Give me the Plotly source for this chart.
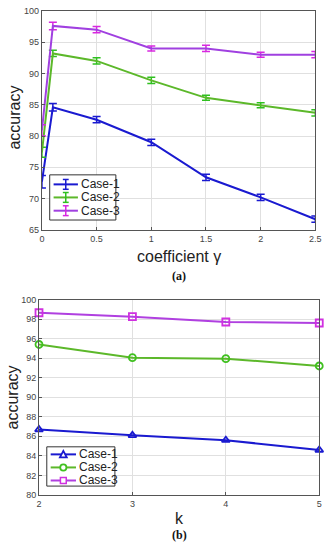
import plotly.graph_objects as go

# ---- data (a) ----
gamma = [0, 0.1, 0.5, 1, 1.5, 2, 2.5]
a_case1 = [72.7, 84.6, 82.6, 79.0, 73.4, 70.2, 66.7]
a_case1_err = [1.0, 0.6, 0.5, 0.5, 0.5, 0.5, 0.5]
a_case2 = [77.4, 93.2, 92.0, 88.9, 86.1, 84.9, 83.7]
a_case2_err = [0.8, 0.5, 0.5, 0.5, 0.4, 0.4, 0.5]
a_case3 = [80.9, 97.6, 97.0, 94.0, 94.0, 93.0, 93.0]
a_case3_err = [0.9, 0.6, 0.5, 0.4, 0.5, 0.4, 0.5]

# ---- data (b) ----
k_vals = [2, 3, 4, 5]
b_case1 = [86.7, 86.1, 85.6, 84.6]
b_case2 = [95.4, 94.05, 93.95, 93.2]
b_case3 = [98.65, 98.25, 97.7, 97.6]

names = ["Case-1", "Case-2", "Case-3"]
line_cols = ["#1a1ad0", "#5cb82a", "#a040e0"]
err_cols = ["#1a1ad0", "#30c020", "#d828e0"]
b_line_cols = ["#1a1ad0", "#5cb82a", "#b040e0"]
b_mark_cols = ["#1a1ad0", "#40c020", "#d030e0"]
symbols = ["triangle-up-open", "circle-open", "square-open"]

W, H = 334, 550


def px(xp):
    return xp / W


def py(yp):
    return 1 - yp / H


fig = go.Figure()

for vals, errs, nm, lc, ec in zip([a_case1, a_case2, a_case3],
                                  [a_case1_err, a_case2_err, a_case3_err],
                                  names, line_cols, err_cols):
    fig.add_trace(go.Scatter(
        x=gamma, y=vals, name=nm, mode="lines", showlegend=False, cliponaxis=False,
        line=dict(color=lc, width=2),
        error_y=dict(type="data", array=errs, visible=True,
                     color=ec, thickness=1.5, width=4),
        xaxis="x", yaxis="y"))

for vals, nm, lc, mc, sy in zip([b_case1, b_case2, b_case3], names,
                                b_line_cols, b_mark_cols, symbols):
    fig.add_trace(go.Scatter(
        x=k_vals, y=vals, name=nm, mode="lines+markers", showlegend=False, cliponaxis=False,
        line=dict(color=lc, width=2),
        marker=dict(symbol=sy, size=7, color=mc, line=dict(width=1.8, color=mc)),
        xaxis="x2", yaxis="y2"))

axis_common = dict(showgrid=True, gridcolor="#e0e0e0", gridwidth=1,
                   showline=True, linecolor="#555555", linewidth=1, mirror=True,
                   ticks="inside", ticklen=3, tickcolor="#555555",
                   tickfont=dict(family="Liberation Sans, Arial", size=9, color="#444444"),
                   zeroline=False)

fig.update_layout(
    width=W, height=H,
    margin=dict(l=0, r=0, t=0, b=0),
    paper_bgcolor="white", plot_bgcolor="white",
    showlegend=False,
    xaxis=dict(domain=[px(40), px(321)], range=[0, 2.5],
               tickvals=[0, 0.5, 1, 1.5, 2, 2.5], ticktext=["0", "0.5", "1", "1.5", "2", "2.5"],
               anchor="y", **axis_common),
    yaxis=dict(domain=[py(229), py(6)], range=[65, 100],
               tickvals=[65, 70, 75, 80, 85, 90, 95, 100], anchor="x", **axis_common),
    xaxis2=dict(domain=[px(37), px(325)], range=[2, 5],
                tickvals=[2, 3, 4, 5], anchor="y2", **axis_common),
    yaxis2=dict(domain=[py(499), py(300)], range=[80, 100],
                tickvals=list(range(80, 101, 2)), anchor="x2", **axis_common),
)

# ---- custom legends (MATLAB style) ----
leg_font = dict(family="Liberation Sans, Arial", size=12, color="#222222")
shapes = []


def box(x0, y0, x1, y1):
    shapes.append(dict(type="rect", xref="paper", yref="paper",
                       x0=px(x0), x1=px(x1), y0=py(y1), y1=py(y0),
                       line=dict(color="#333333", width=1), fillcolor="white", layer="above"))


def seg(x0, y0, x1, y1, color, width=2):
    shapes.append(dict(type="line", xref="paper", yref="paper",
                       x0=px(x0), x1=px(x1), y0=py(y0), y1=py(y1),
                       line=dict(color=color, width=width), layer="above"))


# legend (a)
box(48, 173, 116, 219)
for i, (nm, lc, ec) in enumerate(zip(names, line_cols, err_cols)):
    yy = [182.7, 196, 209.5][i]
    seg(52, yy, 77, yy, lc, 2)
    seg(64.5, yy - 5, 64.5, yy + 5, ec, 1.5)
    seg(61.5, yy - 5, 67.5, yy - 5, ec, 1.5)
    seg(61.5, yy + 5, 67.5, yy + 5, ec, 1.5)
    fig.add_annotation(text=nm, x=px(78), y=py(yy), xref="paper", yref="paper",
                       xanchor="left", yanchor="middle", showarrow=False, font=leg_font)

# legend (b)
box(45, 450, 115, 490)
for i, (nm, lc, mc) in enumerate(zip(names, b_line_cols, b_mark_cols)):
    yy = [457.7, 471, 484.3][i]
    seg(49, yy, 75, yy, lc, 2)
    cx = 62
    if i == 0:
        shapes.append(dict(type="path", xref="paper", yref="paper",
                           path="M {} {} L {} {} L {} {} Z".format(
                               px(cx - 3.5), py(yy + 3), px(cx + 3.5), py(yy + 3), px(cx), py(yy - 3.5)),
                           line=dict(color=mc, width=1.8), fillcolor="white", layer="above"))
    elif i == 1:
        shapes.append(dict(type="circle", xref="paper", yref="paper",
                           x0=px(cx - 3.2), x1=px(cx + 3.2), y0=py(yy + 3.2), y1=py(yy - 3.2),
                           line=dict(color=mc, width=1.8), fillcolor="white", layer="above"))
    else:
        shapes.append(dict(type="rect", xref="paper", yref="paper",
                           x0=px(cx - 3), x1=px(cx + 3), y0=py(yy + 3), y1=py(yy - 3),
                           line=dict(color=mc, width=1.5), fillcolor="white", layer="above"))
    fig.add_annotation(text=nm, x=px(76), y=py(yy), xref="paper", yref="paper",
                       xanchor="left", yanchor="middle", showarrow=False, font=leg_font)

fig.update_layout(shapes=shapes)

ann_font = dict(family="Liberation Sans, Arial", size=16, color="#222222")
label_font = dict(family="Liberation Serif, Times New Roman", size=12, color="#111111")


def ann(text, x, y, font, angle=0):
    fig.add_annotation(text=text, x=px(x), y=py(y), xref="paper", yref="paper",
                       xanchor="center", yanchor="middle", textangle=angle,
                       showarrow=False, font=font)


ann("accuracy", 12, 115, ann_font, -90)
ann("coefficient γ", 181, 256, ann_font)
ann("<b>(a)</b>", 181, 276, label_font)
ann("accuracy", 10, 400, ann_font, -90)
ann("k", 181, 523, ann_font)
ann("<b>(b)</b>", 181, 540, label_font)

fig.write_html("out.html", config={"displayModeBar": False},
               post_script="document.body.style.margin='0';")
